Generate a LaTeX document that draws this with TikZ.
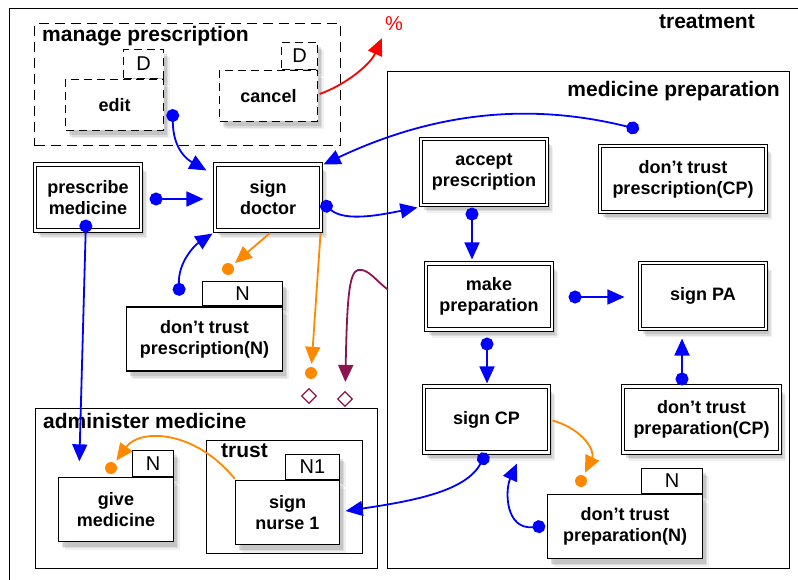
\documentclass[tikz,border=0pt]{standalone}
\usepackage{fontspec}
\setmainfont{Liberation Sans}
\usepackage{xcolor}
\usepackage{tikz}
\usetikzlibrary{arrows.meta}
\usetikzlibrary{shapes.geometric}
\usetikzlibrary{shadows}
\usetikzlibrary{backgrounds}
\usetikzlibrary{positioning}
\definecolor{flowblue}{RGB}{0,0,255}
\definecolor{failorange}{RGB}{255,136,0}
\definecolor{waitpurple}{RGB}{140,20,80}
\definecolor{cancelred}{RGB}{255,0,0}
\tikzset{
  softshadow/.style={drop shadow={shadow xshift=6pt, shadow yshift=-8pt, opacity=0.12},
    drop shadow={shadow xshift=4.5pt, shadow yshift=-6.5pt, opacity=0.18},
    drop shadow={shadow xshift=3pt, shadow yshift=-5pt, opacity=0.25}},
  task/.style={draw, double, double distance=2.4pt, line width=1.1pt, fill=white, align=center, minimum width=#1, minimum height=66pt, inner sep=1pt, font=\fontsize{18}{21}\selectfont\bfseries, softshadow},
  plain/.style={draw, line width=1.3pt, fill=white, align=center, minimum width=#1, minimum height=64pt, inner sep=1pt, font=\fontsize{18}{21}\selectfont\bfseries, softshadow},
  optional/.style={plain=#1, minimum height=51pt, dash pattern=on 8pt off 5pt},
  tabbox/.style={draw, line width=1.3pt, fill=white, inner sep=0pt, minimum width=#1, minimum height=25pt, anchor=south east, font=\fontsize{20}{20}\selectfont, softshadow},
  groupbox/.style={draw, line width=1.3pt, inner sep=0pt, anchor=north west},
  groupname/.style={inner sep=0pt, font=\fontsize{21}{24}\selectfont\bfseries},
  flow/.style={flowblue, line width=1.8pt, {Circle[length=13pt]}-{Triangle[length=17pt,width=15pt]}},
  fail/.style={failorange, line width=1.8pt, -{Triangle[length=17pt,width=15pt]}, shorten >=3pt},
  faildot/.style={circle, fill=failorange, inner sep=0pt, minimum size=12pt},
  waitmark/.style={diamond, draw=waitpurple, line width=1.3pt, fill=white, inner sep=0pt, minimum size=15pt},
  waitflow/.style={waitpurple, line width=1.8pt, -{Triangle[length=17pt,width=15pt]}, shorten >=9pt},
}
\begin{document}
\begin{tikzpicture}[x=1pt,y=-1pt]
  \useasboundingbox (0,0) rectangle (798,580);
  \clip (0,0) rectangle (798,580);

  % groups
  \node[groupbox, minimum width=806, minimum height=590] (treat) at (9,8) {};
  \node[groupname, anchor=base east] (treatname) at (755,29) {treatment};
  \node[groupbox, minimum width=306, minimum height=122, dash pattern=on 10pt off 6pt] (manage) at (34,23) {};
  \node[groupname, anchor=base west] (managename) at (42,42) {manage prescription};
  \node[groupbox, minimum width=402, minimum height=497] (medprep) at (387,71) {};
  \node[groupname, anchor=base east] (medprepname) at (780,97) {medicine preparation};
  \node[groupbox, minimum width=342, minimum height=160] (admin) at (35,408) {};
  \node[groupname, anchor=base west] (adminname) at (43,428) {administer medicine};
  \node[groupbox, minimum width=156, minimum height=113] (trust) at (206,440) {};
  \node[groupname, anchor=base west] (trustname) at (221,457) {trust};

  % activities
  \foreach \nm/\x/\y/\w/\txt in {
      presc/88/197.5/106/{prescribe\\medicine},
      signdoc/268/197.5/106/{sign\\doctor},
      accept/484/172/126/{accept\\prescription},
      dtpCP/683/179/166/{don't trust\\prescription(CP)},
      make/489/296.5/126/{make\\preparation},
      signPA/703/296/126/{sign PA},
      signCP/486.5/419.5/125/{sign CP},
      dtprepCP/701.5/419.5/157/{don't trust\\preparation(CP)}} {
    \node[task=\w] (\nm) at (\x,\y) {\txt};
  }
  \node[plain=156] (dtpN) at (204.5,339) {don't trust\\prescription(N)};
  \node[plain=155] (dtprepN) at (625,526.5) {don't trust\\preparation(N)};
  \node[plain=115] (give) at (116,509.5) {give\\medicine};
  \node[plain=104] (nurse) at (287.5,512.5) {sign\\nurse 1};
  \node[optional=98] (edit) at (114.5,105) {edit};
  \node[optional=98] (cancel) at (268.5,96) {cancel};

  \begin{scope}[on background layer]
    \node[tabbox=40, minimum height=29, dash pattern=on 8pt off 5pt] (editD) at (edit.north east) {D};
    \node[tabbox=36, minimum height=27, dash pattern=on 8pt off 5pt] (cancelD) at (cancel.north east) {D};
    \node[tabbox=80, minimum height=24] (dtpNtab) at (dtpN.north east) {N};
    \node[tabbox=61] (dtprepNtab) at (dtprepN.north east) {N};
    \node[tabbox=41, minimum height=26] (givetab) at (give.north east) {N};
    \node[tabbox=54] (nursetab) at (nurse.north east) {N1};
  \end{scope}

  % markers
  \node[faildot] (fd1) at (228,269) {};
  \node[faildot] (fd2) at (311,373) {};
  \node[faildot] (fd3) at (581,481) {};
  \node[faildot] (fd4) at (111,468) {};
  \node[waitmark] (wait1) at (309,396) {};
  \node[waitmark] (wait2) at (345,399) {};
  \node[cancelred, inner sep=0pt, font=\fontsize{20}{20}\selectfont] (pct) at (394,24) {\%};

  % flows
  \draw[flow] ([shift={(8.5,4)}]edit.east) .. controls (173,150) and (188,160) .. ([shift={(-8,6.5)}]signdoc.north west);
  \draw[flow] ([shift={(8,1.5)}]presc.east) -- ([shift={(-11,1.5)}]signdoc.west);
  \draw[flow] ([shift={(-44,-16)}]dtpCP.north) .. controls (560,110) and (460,100) .. ([shift={(2,0.5)}]signdoc.north east);
  \draw[flow] ([shift={(0,4.5)}]signdoc.east) .. controls (345,222) and (380,215) .. ([shift={(-3,2)}]accept.south west);
  \draw[flow] ([shift={(53.5,-10.5)}]dtpN.north west) .. controls (178,262) and (195,245) .. ([shift={(-2,2.5)}]signdoc.south west);
  \draw[flow] ([shift={(-2,-11.5)}]presc.south) -- ([shift={(21.5,-15.5)}]give.north west);
  \draw[flow] ([shift={(-12,2)}]accept.south) -- ([shift={(-17,-3.5)}]make.north);
  \draw[flow] ([shift={(16,0.5)}]make.east) -- ([shift={(-15,1)}]signPA.west);
  \draw[flow] ([shift={(-2,7.5)}]make.south) -- ([shift={(0.5,-2.5)}]signCP.north);
  \draw[flow] ([shift={(-19.5,-0.5)}]dtprepCP.north) -- ([shift={(-21,9)}]signPA.south);
  \draw[flow] (signCP.south) .. controls (466,490) and (420,500) .. ([shift={(5.5,-1.5)}]nurse.east);
  \draw[flow] ([shift={(-1.5,-0.5)}]dtprepN.west) .. controls (505,530) and (505,490) .. ([shift={(30.5,10.5)}]signCP.south);

  % failures
  \draw[fail] ([shift={(2,2)}]signdoc.south) -- (fd1);
  \draw[fail] ([shift={(-1,2)}]signdoc.south east) -- (fd2);
  \draw[fail] ([shift={(3,1)}]signCP.east) .. controls (585,430) and (595,452) .. (fd3);
  \draw[fail] ([shift={(0,-1)}]nurse.north west) .. controls (195,430) and (140,428) .. (fd4);

  % waiting and cancel
  \draw[waitflow] ([shift={(1,-30.5)}]medprep.west) .. controls (376,281) and (368,268) .. (358,270)
    .. controls (349,272) and (347,300) .. (wait2);
  \draw[cancelred, line width=1.8pt, -{Triangle[length=17pt,width=15pt]}]
    ([shift={(1.5,-2)}]cancel.east) .. controls (345,85) and (370,65) .. ([shift={(-3,7)}]pct.south west);
\end{tikzpicture}
\end{document}
